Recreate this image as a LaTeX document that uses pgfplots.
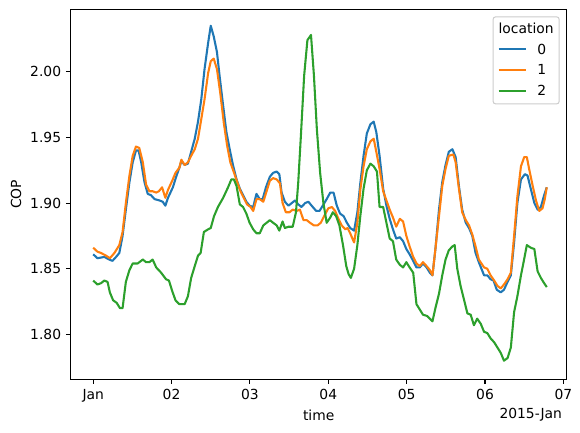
\documentclass[border=0pt]{standalone}
\usepackage{pgfplots}
\pgfplotsset{compat=1.18}
\usepackage{pgfplotstable}
\usepackage{fontspec}
\setmainfont{DejaVu Sans}

\definecolor{c0}{HTML}{1F77B4}
\definecolor{c1}{HTML}{FF7F0E}
\definecolor{c2}{HTML}{2CA02C}

% hours since 2015-01-01 00:00, COP
\pgfplotstableread{
h cop
0 1.861
1.3 1.858
3.4 1.859
4.9 1.857
5.9 1.856
7.0 1.859
8.0 1.862
9.0 1.875
10.0 1.895
11.1 1.916
12.1 1.931
13.1 1.940
13.9 1.940
14.7 1.931
15.7 1.916
16.7 1.907
17.7 1.906
18.8 1.903
20.3 1.902
21.3 1.901
22.1 1.898
22.9 1.904
24.4 1.912
25.4 1.920
26.4 1.927
27.0 1.932
28.0 1.929
29.0 1.930
30.0 1.939
31.1 1.949
32.1 1.962
33.1 1.979
34.1 2.002
35.2 2.022
36.0 2.035
36.9 2.027
37.9 2.015
38.7 1.997
39.8 1.974
40.8 1.954
41.8 1.941
42.8 1.929
43.9 1.918
44.9 1.911
45.9 1.906
46.9 1.901
47.9 1.898
49.0 1.897
50.0 1.907
51.0 1.903
51.9 1.903
52.9 1.912
54.1 1.920
55.1 1.923
56.2 1.924
57.0 1.922
57.7 1.908
58.7 1.901
59.8 1.898
61.8 1.902
62.8 1.899
63.8 1.897
64.9 1.900
65.9 1.901
66.9 1.898
68.3 1.894
69.3 1.894
70.3 1.898
71.5 1.903
72.6 1.908
73.6 1.908
74.6 1.898
75.6 1.892
76.7 1.890
77.7 1.885
78.7 1.881
79.9 1.879
80.9 1.893
81.8 1.915
82.8 1.936
83.8 1.953
84.9 1.960
85.9 1.962
86.7 1.954
87.7 1.936
88.8 1.911
89.8 1.898
90.8 1.888
91.8 1.880
92.8 1.873
93.9 1.874
94.9 1.871
95.9 1.865
96.9 1.861
98.0 1.856
99.0 1.851
100.0 1.851
101.0 1.854
102.1 1.851
103.1 1.847
103.9 1.845
104.8 1.865
105.9 1.895
106.9 1.916
107.9 1.929
108.9 1.939
110.0 1.941
111.0 1.935
112.0 1.913
113.0 1.895
114.1 1.885
115.1 1.881
116.1 1.875
117.1 1.862
118.1 1.855
119.7 1.845
120.7 1.845
121.7 1.842
122.6 1.841
123.6 1.834
124.8 1.832
125.8 1.834
126.9 1.840
127.9 1.845
128.9 1.870
129.9 1.900
131.0 1.918
132.2 1.922
133.0 1.921
134.0 1.911
135.1 1.900
136.1 1.895
137.1 1.897
138.1 1.906
138.9 1.912
}\locA

\pgfplotstableread{
h cop
0 1.866
1.3 1.863
2.4 1.862
3.9 1.860
5.1 1.858
6.5 1.862
8.0 1.868
9.0 1.878
10.0 1.900
11.1 1.921
12.1 1.936
13.1 1.943
14.1 1.942
15.2 1.931
16.2 1.914
17.2 1.909
18.2 1.909
19.3 1.908
20.1 1.909
21.1 1.912
22.1 1.904
22.9 1.910
24.2 1.917
25.2 1.923
26.4 1.927
27.0 1.933
28.0 1.929
29.0 1.931
30.0 1.936
31.1 1.941
32.1 1.949
33.1 1.964
34.1 1.979
35.2 1.999
36.0 2.008
36.9 2.010
37.9 2.002
38.9 1.984
40.0 1.961
41.0 1.944
42.0 1.931
43.0 1.924
44.1 1.916
45.1 1.909
46.1 1.904
47.1 1.899
48.2 1.897
49.0 1.894
50.0 1.903
51.0 1.903
52.1 1.901
53.1 1.909
54.1 1.917
55.1 1.919
56.2 1.918
57.2 1.915
58.0 1.900
59.0 1.893
60.1 1.893
61.1 1.895
62.3 1.894
63.3 1.895
64.4 1.887
65.4 1.887
66.4 1.885
67.6 1.883
68.7 1.883
69.7 1.885
70.7 1.890
72.0 1.896
73.1 1.897
74.1 1.894
75.1 1.888
76.1 1.883
77.2 1.880
77.9 1.881
78.7 1.877
79.9 1.870
80.9 1.885
81.8 1.910
82.8 1.928
83.8 1.941
84.9 1.947
85.9 1.949
86.7 1.939
87.7 1.926
88.8 1.909
89.8 1.902
90.8 1.895
91.8 1.889
92.8 1.882
93.9 1.888
94.9 1.886
95.9 1.875
96.9 1.867
98.0 1.859
99.0 1.854
100.0 1.852
101.0 1.855
102.1 1.852
103.1 1.849
103.9 1.845
104.8 1.865
105.9 1.890
106.9 1.913
107.9 1.926
108.9 1.936
110.3 1.937
111.0 1.931
112.0 1.911
113.0 1.893
114.1 1.887
115.1 1.883
116.1 1.876
117.1 1.867
118.1 1.857
119.7 1.851
120.7 1.850
121.7 1.845
122.8 1.841
123.8 1.837
124.8 1.835
125.8 1.838
126.9 1.842
127.9 1.847
128.9 1.875
129.9 1.905
131.0 1.928
132.0 1.935
132.8 1.935
133.5 1.926
134.6 1.913
135.6 1.902
136.6 1.894
137.6 1.896
138.3 1.903
138.9 1.912
}\locB

\pgfplotstableread{
h cop
0 1.841
1.3 1.838
2.4 1.839
3.4 1.841
4.4 1.840
5.1 1.832
6.1 1.826
7.2 1.824
8.2 1.820
9.0 1.820
10.0 1.840
11.1 1.849
12.1 1.854
13.6 1.854
15.2 1.857
16.2 1.855
17.2 1.855
18.2 1.857
19.3 1.851
20.8 1.847
22.3 1.842
23.2 1.841
24.2 1.833
25.2 1.826
26.4 1.823
28.0 1.823
29.0 1.829
30.0 1.843
31.1 1.852
32.1 1.860
32.9 1.862
33.9 1.878
35.2 1.880
36.0 1.881
37.0 1.890
38.2 1.897
39.8 1.904
41.3 1.912
42.3 1.918
43.1 1.918
43.9 1.913
44.9 1.899
45.9 1.897
46.9 1.892
47.9 1.885
49.0 1.880
50.0 1.877
51.0 1.877
52.1 1.883
53.1 1.885
54.1 1.887
55.1 1.885
56.2 1.883
57.0 1.879
58.0 1.886
58.7 1.881
59.8 1.882
61.1 1.882
62.1 1.893
62.8 1.916
63.6 1.951
64.6 1.997
65.6 2.024
66.7 2.028
67.6 1.997
68.5 1.956
69.5 1.923
70.5 1.900
71.5 1.885
72.6 1.889
73.4 1.893
74.4 1.890
75.4 1.883
76.5 1.868
77.5 1.852
78.2 1.846
78.9 1.843
79.9 1.850
80.9 1.868
81.8 1.890
82.8 1.911
83.8 1.925
84.9 1.930
85.9 1.928
86.9 1.924
87.7 1.897
88.8 1.897
89.8 1.885
90.8 1.873
91.8 1.871
92.8 1.857
93.9 1.853
94.9 1.851
95.9 1.855
96.9 1.851
98.0 1.847
99.0 1.823
100.0 1.819
101.0 1.815
102.3 1.814
103.1 1.812
103.9 1.810
104.8 1.820
105.9 1.831
106.9 1.845
107.9 1.857
108.9 1.864
110.0 1.867
110.7 1.868
111.5 1.850
112.5 1.837
113.5 1.827
114.6 1.816
115.6 1.815
116.6 1.807
117.6 1.812
118.7 1.808
119.7 1.802
120.7 1.801
121.7 1.797
122.8 1.794
123.8 1.790
124.8 1.786
125.8 1.780
126.9 1.782
127.9 1.790
128.9 1.817
129.9 1.829
131.0 1.845
131.8 1.855
132.8 1.868
134.0 1.866
135.1 1.865
136.1 1.848
137.1 1.843
138.1 1.839
138.9 1.836
}\locC

\newcommand{\swatch}[1]{\textcolor{#1}{\rule[2.9pt]{20.8pt}{1.56pt}}}

\begin{document}
\begin{tikzpicture}[font=\fontsize{10.4}{12.5}\selectfont]
\begin{axis}[
  name=ax,
  scale only axis,
  width=372pt, height=277.3pt,
  xmin=-6.9, xmax=145, ymin=1.766, ymax=2.0475,
  xtick={0,24,48,72,96,120,144},
  xticklabels={Jan,02,03,04,05,06,07},
  ytick={1.80,1.85,1.90,1.95,2.00},
  yticklabels={1.80,1.85,1.90,1.95,2.00},
  tick align=outside, tick pos=left,
  major tick length=3.65pt,
  axis line style={line width=0.83pt},
  every tick/.style={black, line width=0.83pt},
  xticklabel style={anchor=base, yshift=-11.5pt},
  yticklabel style={anchor=east},
  xlabel={time}, ylabel={COP},
  every axis x label/.style={at={(axis description cs:0.5,0)}, anchor=base, yshift=-31pt},
  every axis y label/.style={at={(axis description cs:-0.0997,0.5)}, anchor=base, rotate=90},
  every axis plot/.append style={line width=1.56pt, line join=round, no markers},
]
\addplot[c0] table[x=h, y=cop] {\locA};
\addplot[c1] table[x=h, y=cop] {\locB};
\addplot[c2] table[x=h, y=cop] {\locC};

\node[draw=black!20, line width=0.75pt, fill=white, fill opacity=0.8, text opacity=1,
      rounded corners=2.1pt, inner xsep=4.2pt, inner ysep=1.7pt, anchor=north east]
  at ([xshift=-5.2pt, yshift=-5.2pt]rel axis cs:1,1)
  {\fontsize{10.4}{15.5}\selectfont
   \begin{tabular}{@{}l@{\hspace{8.3pt}}l@{}}
   \multicolumn{2}{@{}c@{}}{location}\\
   \swatch{c0} & 0\\
   \swatch{c1} & 1\\
   \swatch{c2} & 2
   \end{tabular}};
\end{axis}
% date offset under the time axis
\node[anchor=base east] at ([yshift=-29.5pt]ax.south east) {2015-Jan};
\pgfresetboundingbox
\path (ax.south west) ++(-53pt,-39.75pt) rectangle ([xshift=10pt, yshift=7pt]ax.north east);
\end{tikzpicture}
\end{document}
